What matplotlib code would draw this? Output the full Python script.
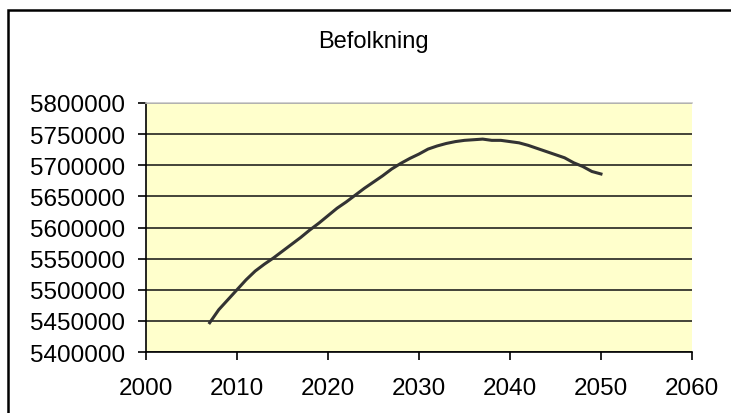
import matplotlib.pyplot as plt
from matplotlib.patches import Rectangle

plt.rcParams['font.family'] = ['Liberation Sans', 'DejaVu Sans']

years = list(range(2007, 2051))
befolkning = [5447000, 5468000, 5484000, 5500000, 5516000, 5530000, 5541000, 5551000,
              5562000, 5573000, 5584000, 5596000, 5607000, 5619000, 5631000, 5641000,
              5652000, 5663000, 5673000, 5683000, 5694000, 5703000, 5711000, 5718000,
              5726000, 5731000, 5735000, 5738000, 5740000, 5741000, 5742000, 5740000,
              5740000, 5738000, 5736000, 5732000, 5727000, 5722000, 5717000, 5712000,
              5704000, 5698000, 5690000, 5686000]
xticks = [2000, 2010, 2020, 2030, 2040, 2050, 2060]
yticks = list(range(5400000, 5800001, 50000))

fig = plt.figure(figsize=(7.31, 4.14), dpi=100)
ax = fig.add_axes([0.1997, 0.1473, 0.7469, 0.6015])
ax.set_facecolor('#FFFFCC')

ax.plot(years, befolkning, color='#333333', lw=2.2, zorder=3)

ax.set_xlim(2000, 2060)
ax.set_ylim(5400000, 5800000)
ax.set_xticks(xticks)
ax.set_yticks(yticks)
ax.set_xticklabels([str(t) for t in xticks])
ax.set_yticklabels([str(t) for t in yticks])
ax.yaxis.grid(True, color='#111111', lw=1.1)
ax.set_axisbelow(True)
ax.tick_params(axis='both', direction='out', length=6, width=1.2, labelsize=17.5,
               colors='black')
ax.tick_params(axis='y', pad=9)
ax.tick_params(axis='x', pad=12)

for s in ['left', 'bottom']:
    ax.spines[s].set_color('black')
    ax.spines[s].set_linewidth(1.2)
ax.spines['right'].set_visible(False)
ax.spines['top'].set_color('#C8C8C8')
ax.spines['top'].set_linewidth(1.2)

fig.text(0.511, 0.899, 'Befolkning', ha='center', va='center', fontsize=17)

# outer chart frame, open on the right and bottom
fig.patches.append(Rectangle((8 / 731, -0.05), 1.1, 0.05 + (1 - 11 / 414),
                             transform=fig.transFigure, fill=False,
                             edgecolor='black', lw=1.8))

fig.savefig('out.png', dpi=100)
